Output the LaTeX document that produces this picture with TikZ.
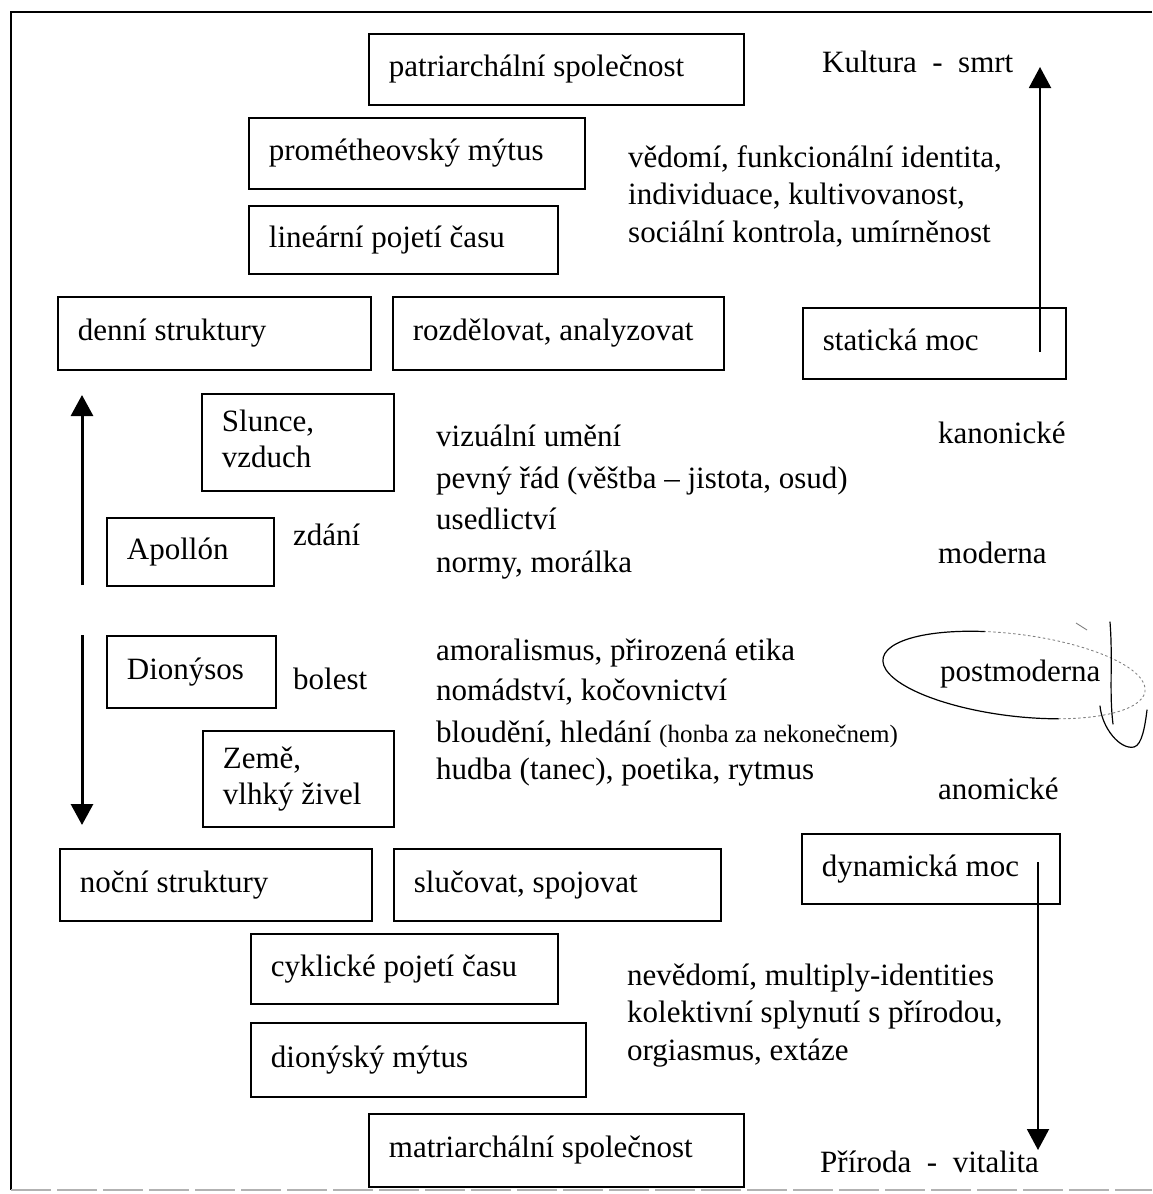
\documentclass[tikz,border=0pt]{standalone}
\usepackage{fontspec}
\setmainfont{Liberation Serif}
\usetikzlibrary{arrows.meta}
\newcommand\mainsz{\fontsize{31}{36}\selectfont}
\newcommand\parsz{\fontsize{31}{37.5}\selectfont}
\newcommand\smallpar{\fontsize{25}{30}\selectfont}
\begin{document}
\begin{tikzpicture}[x=1pt,y=-1pt,
  box/.style={draw, line width=1.8pt, rectangle, inner xsep=20pt, inner ysep=0pt,
    align=flush left, anchor=north west, font=\mainsz},
  lbl/.style={inner sep=0pt, anchor=west, align=flush left, font=\mainsz},
  plbl/.style={inner sep=0pt, anchor=west, align=flush left, font=\parsz},
  arrthin/.style={line width=2pt, -{Triangle[width=22pt,length=21pt]}},
  arrthick/.style={line width=3pt, -{Triangle[width=22pt,length=21pt]}},
  hand/.style={line width=1.2pt, line cap=round},
  handdot/.style={line width=0.9pt, gray, dash pattern=on 2pt off 3pt, line cap=round},
  frame/.style={line width=1.8pt},
  framelow/.style={line width=1.5pt, gray!60, dash pattern=on 40pt off 6pt}
]
\useasboundingbox (0,0) rectangle (1152,1194);

% outer frame
\coordinate (fTL) at (11,12);
\coordinate (fTR) at (1152,12);
\coordinate (fBL) at (11,1190);
\coordinate (fBR) at (1152,1190);
\draw[frame] (fTR) -- (fTL) -- (fBL);
\draw[framelow] (fBL) -- (fBR);

% boxes
\node[box, text width=335pt, minimum height=71pt] (patri) at (368,33) {\strut patriarchální společnost};
\node[box, text width=296pt, minimum height=71pt] (prom) at (248,117) {\strut prométheovský mýtus};
\node[box, text width=269pt, minimum height=68pt] (lin) at (248,205) {\strut lineární pojetí času};
\node[box, text width=273pt, minimum height=73pt] (denni) at (57,296) {\strut denní struktury};
\node[box, text width=291pt, minimum height=73pt] (rozd) at (392,296) {\strut rozdělovat, analyzovat};
\node[box, text width=223pt, minimum height=71pt] (stat) at (802,307) {\strut statická moc};
\node[box, text width=152pt, minimum height=97pt] (slunce) at (201,393) {\strut Slunce,\\\strut vzduch};
\node[box, text width=127pt, minimum height=68pt] (apol) at (106,517) {\strut Apollón};
\node[box, text width=129pt, minimum height=72pt] (dion) at (106,635) {\strut Dionýsos};
\node[box, text width=151pt, minimum height=96pt] (zeme) at (202,730) {\strut Země,\\\strut vlhký živel};
\node[box, text width=272pt, minimum height=72pt] (nocni) at (59,848) {\strut noční struktury};
\node[box, text width=287pt, minimum height=72pt] (sluc) at (393,848) {\strut slučovat, spojovat};
\node[box, text width=218pt, minimum height=70pt] (dyn) at (801,833) {\strut dynamická moc};
\node[box, text width=267pt, minimum height=70pt] (cykl) at (250,933) {\strut cyklické pojetí času};
\node[box, text width=295pt, minimum height=74pt] (dmyt) at (250,1022) {\strut dionýský mýtus};
\node[box, text width=335pt, minimum height=73pt] (matri) at (368,1113) {\strut matriarchální společnost};

% labels
\node[lbl] (kult) at (822,65) {\strut Kultura~~-~~smrt};
\node[plbl] (vedomi) at (628,197) {\strut vědomí, funkcionální identita,\\\strut individuace, kultivovanost,\\\strut sociální kontrola, umírněnost};
\node[lbl] (viz) at (436,439) {\strut vizuální umění};
\node[lbl] (pevny) at (436,481) {\strut pevný řád (věštba – jistota, osud)};
\node[lbl] (used) at (436,522) {\strut usedlictví};
\node[lbl] (normy) at (436,565) {\strut normy, morálka};
\node[lbl] (kanon) at (938,436) {\strut kanonické};
\node[lbl] (moder) at (938,556) {\strut moderna};
\node[lbl] (zdani) at (293,538) {\strut zdání};
\node[lbl] (bolest) at (293,682) {\strut bolest};
\node[lbl] (amor) at (436,653) {\strut amoralismus, přirozená etika};
\node[lbl] (nomad) at (436,693) {\strut nomádství, kočovnictví};
\node[lbl] (blou) at (436,735) {\strut bloudění, hledání {\smallpar(honba za nekonečnem)}};
\node[lbl] (hudba) at (436,772) {\strut hudba (tanec), poetika, rytmus};
\node[lbl] (postm) at (940,674) {\strut postmoderna};
\node[lbl] (anom) at (938,792) {\strut anomické};
\node[plbl] (neved) at (627,1015) {\strut nevědomí, multiply-identities\\\strut kolektivní splynutí s přírodou,\\\strut orgiasmus, extáze};
\node[lbl] (prir) at (820,1165) {\strut Příroda~~-~~vitalita};

% arrows
\coordinate (kupS) at (1040,352);
\coordinate (kupE) at (1040,67);
\draw[arrthin] (kupS) -- (kupE);
\coordinate (lupS) at (82,585);
\coordinate (lupE) at (82,395);
\draw[arrthick] (lupS) -- (lupE);
\coordinate (ldnS) at (82,635);
\coordinate (ldnE) at (82,825);
\draw[arrthick] (ldnS) -- (ldnE);
\coordinate (rdnS) at (1038,862);
\coordinate (rdnE) at (1038,1150);
\draw[arrthin] (rdnS) -- (rdnE);

% hand-drawn ellipse and marks around postmoderna
\coordinate (ec) at (1014,675);
\begin{scope}[rotate around={-7:(ec)}]
  \draw[hand] ([shift={(105:132pt and 41pt)}]ec) arc[start angle=105, end angle=292, x radius=132pt, y radius=41pt];
  \draw[handdot] ([shift={(292:132pt and 41pt)}]ec) arc[start angle=292, end angle=465, x radius=132pt, y radius=41pt];
\end{scope}
\coordinate (sq1) at (1110,622);
\coordinate (sq2) at (1113,724);
\draw[hand] (sq1) .. controls (1113,660) and (1109,692) .. (sq2);
\coordinate (hk1) at (1100,706);
\coordinate (hk2) at (1134,747);
\coordinate (hk3) at (1147,710);
\draw[hand] (hk1) .. controls (1102,728) and (1120,750) .. (hk2) .. controls (1142,745) and (1145,726) .. (hk3);
\coordinate (mk1) at (1076,623);
\coordinate (mk2) at (1087,630);
\draw[line width=0.9pt, gray] (mk1) -- (mk2);
\end{tikzpicture}
\end{document}
